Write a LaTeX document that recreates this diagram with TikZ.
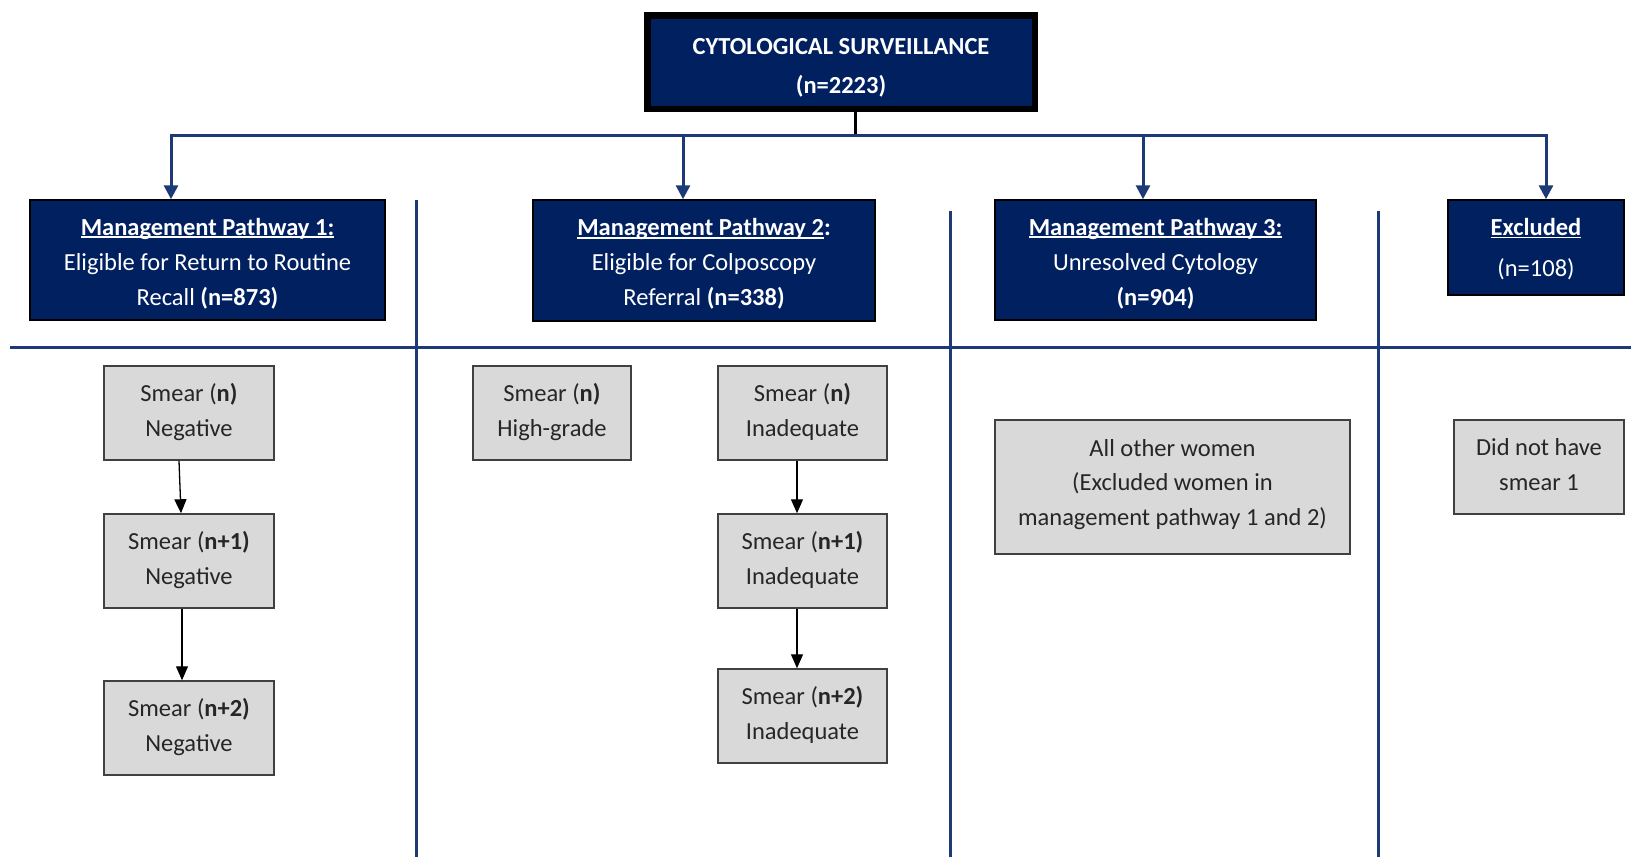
\documentclass[tikz,border=0pt]{standalone}
\usepackage{fontspec}
\setmainfont{Carlito}
\usetikzlibrary{arrows.meta}
\definecolor{navy}{HTML}{002060}
\definecolor{lnavy}{HTML}{1B3A76}
\definecolor{gfill}{HTML}{D9D9D9}
\definecolor{gline}{HTML}{404040}
\definecolor{gtext}{HTML}{262626}
\newcommand\hul[1]{\setbox0\hbox{#1}\rlap{\rule[-0.13em]{\wd0}{0.07em}}\box0}
\newcommand\lowtext[2]{\raisebox{-#1}[\height][\depth]{\begin{tabular}{@{}c@{}}#2\end{tabular}}}
\begin{document}
\begin{tikzpicture}[x=1pt,y=-1pt,
  font=\fontsize{24.5pt}{35pt}\selectfont,
  navybox/.style={draw=black, line width=1.5pt, fill=navy, text=white, inner sep=0pt},
  graybox/.style={draw=gline, line width=1.5pt, fill=gfill, text=gtext, inner sep=0pt},
  bus/.style={draw=lnavy, line width=3pt},
  busarrow/.style={bus, -{Triangle[length=14pt,width=14pt]}},
  chain/.style={draw=black, line width=1.3pt, -{Triangle[length=14pt,width=12pt]}}]
\useasboundingbox (0,0) rectangle (1631,857);

% top box
\node[navybox, line width=6.5pt, minimum width=387.5pt, minimum height=93.5pt,
      font=\fontsize{24.5pt}{39.5pt}\selectfont\bfseries] (top) at (841,62)
      {\lowtext{4pt}{CYTOLOGICAL SURVEILLANCE\\(n=2223)}};

% pathway boxes
\node[navybox, minimum width=355pt, minimum height=120pt] (p1) at (207.5,260)
  {\lowtext{3pt}{\textbf{\hul{Management Pathway 1:}}\\Eligible for Return to Routine\\Recall \textbf{(n=873)}}};
\node[navybox, minimum width=342pt, minimum height=121pt] (p2) at (704,260.5)
  {\lowtext{3pt}{\textbf{\hul{Management Pathway 2}:}\\Eligible for Colposcopy\\Referral \textbf{(n=338)}}};
\node[navybox, minimum width=321pt, minimum height=120pt] (p3) at (1155.5,260)
  {\lowtext{3pt}{\textbf{\hul{Management Pathway 3:}}\\Unresolved Cytology\\\textbf{(n=904)}}};
\node[navybox, minimum width=176pt, minimum height=95pt,
      font=\fontsize{24.5pt}{41pt}\selectfont] (ex) at (1536,247.5)
  {\lowtext{0pt}{\textbf{\hul{Excluded}}\\(n=108)}};

% connectors from top
\coordinate (stem) at (855,135);
\coordinate (a1) at (171,135);
\coordinate (a2) at (683,135);
\coordinate (a3) at (1143,135);
\coordinate (a4) at (1546,135);
\draw[draw=black, line width=3pt] (top.south -| stem) -- (stem);
\draw[busarrow] (stem) -| (a1 |- p1.north);
\draw[busarrow] (stem) -| (a4 |- ex.north);
\draw[busarrow] (a2) -- (a2 |- p2.north);
\draw[busarrow] (a3) -- (a3 |- p3.north);

% separators
\coordinate (hL) at (10,347);
\coordinate (hR) at (1631,347);
\draw[bus] (hL) -- (hR);
\coordinate (d1t) at (416,200);  \coordinate (d1b) at (416,857);
\coordinate (d2t) at (950,211);  \coordinate (d2b) at (950,857);
\coordinate (d3t) at (1378,211); \coordinate (d3b) at (1378,857);
\draw[bus] (d1t) -- (d1b);
\draw[bus] (d2t) -- (d2b);
\draw[bus] (d3t) -- (d3b);

% pathway 1 column
\node[graybox, minimum width=170pt, minimum height=94pt] (g1a) at (189,413)
  {\lowtext{-1.5pt}{Smear (\textbf{n)}\\Negative}};
\node[graybox, minimum width=170pt, minimum height=94pt] (g1b) at (189,561)
  {\lowtext{-1.5pt}{Smear (\textbf{n+1)}\\Negative}};
\node[graybox, minimum width=170pt, minimum height=94pt] (g1c) at (189,728)
  {\lowtext{-1.5pt}{Smear (\textbf{n+2)}\\Negative}};
\draw[chain] ([xshift=-10pt]g1a.south) -- ([xshift=-8pt]g1b.north);
\draw[chain] ([xshift=-7pt]g1b.south) -- ([xshift=-7pt]g1c.north);

% pathway 2 columns
\node[graybox, minimum width=158pt, minimum height=94pt] (g2h) at (552,413)
  {\lowtext{-1.5pt}{Smear (\textbf{n)}\\High-grade}};
\node[graybox, minimum width=169pt, minimum height=94pt] (g2a) at (802.5,413)
  {\lowtext{-1.5pt}{Smear (\textbf{n)}\\Inadequate}};
\node[graybox, minimum width=169pt, minimum height=94pt] (g2b) at (802.5,561)
  {\lowtext{-1.5pt}{Smear (\textbf{n+1)}\\Inadequate}};
\node[graybox, minimum width=169pt, minimum height=94pt] (g2c) at (802.5,716)
  {\lowtext{-1.5pt}{Smear (\textbf{n+2)}\\Inadequate}};
\draw[chain] ([xshift=-5.5pt]g2a.south) -- ([xshift=-5.5pt]g2b.north);
\draw[chain] ([xshift=-5.5pt]g2b.south) -- ([xshift=-5.5pt]g2c.north);

% pathway 3 and excluded
\node[graybox, minimum width=355pt, minimum height=134pt,
      font=\fontsize{24.5pt}{34.5pt}\selectfont] (g3) at (1172.5,487)
  {\lowtext{-3pt}{All other women\\(Excluded women in\\management pathway 1 and 2)}};
\node[graybox, minimum width=170pt, minimum height=94pt] (g4) at (1539,467)
  {\lowtext{-1pt}{Did not have\\smear 1}};
\end{tikzpicture}
\end{document}
